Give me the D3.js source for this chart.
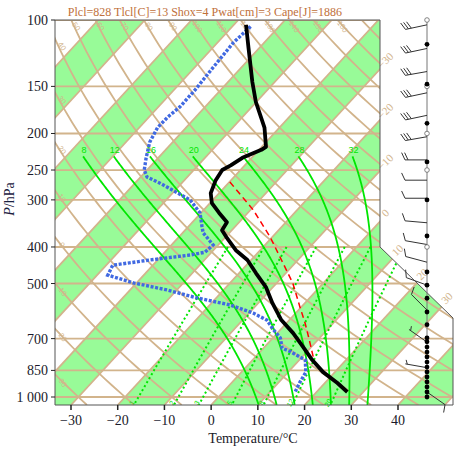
<!DOCTYPE html>
<html><head><meta charset="utf-8">
<script src="https://cdn.jsdelivr.net/npm/d3@7"></script>
<style>body{margin:0;background:#fff}svg{display:block}</style>
</head><body>
<svg id="c" width="466" height="450"></svg>
<script>
// ---------------- data ----------------
const titleText = "Plcl=828 Tlcl[C]=13 Shox=4 Pwat[cm]=3 Cape[J]=1886";
const pTicks = [100,150,200,250,300,400,500,700,850,1000];
const pTickLabels = ["100","150","200","250","300","400","500","700","850","1 000"];
const tTicks = [-30,-20,-10,0,10,20,30,40];
const tTickLabels = ["\u221230","\u221220","\u221210","0","10","20","30","40"];

const tempP = [103,119,146,165,193,217,221,232,243,250,266,288,306,325,344,361,376,408,433,469,511,563,625,677,737,798,859,918,970];
const tempT = [-67.4,-62.2,-54.8,-50.1,-43.2,-39.1,-39.5,-42.0,-43.0,-43.9,-43.3,-41.8,-39.6,-36.1,-32.6,-32.1,-29.9,-25.2,-20.8,-16.4,-11.5,-7.0,-1.7,3.4,8.3,12.8,17.5,22.7,26.6];

const dewP = [104,115,132,153,170,181,193,211,232,250,261,271,300,325,354,367,395,413,420,433,447,475,498,520,546,570,599,625,663,697,742,758,798,859,912,970];
const dewT = [-66.1,-66.6,-66.1,-65.5,-65.4,-66.0,-66.1,-64.9,-62.6,-60.6,-58.6,-54.6,-44.9,-40.2,-37.0,-35.6,-31.1,-31.4,-34.0,-41.6,-48.6,-47.7,-40.7,-32.1,-24.1,-15.6,-9.1,-4.8,-1.5,1.6,4.0,6.5,11.3,13.8,14.5,15.4];

const parcelP = [269,319,376,442,499,577,637,692,787];
const parcelT = [-39.9,-29.4,-20.5,-12.5,-6.5,-0.3,4.0,7.4,12.6];

const windP   = [103,119,137,156,179,204,235,266,297,345,394,439,505,588,715,836,970];
const windDir = [258,258,260,258,258,260,270,270,270,275,280,285,290,315,305,280,125];
const windSpd = [12,12,12,12,12,12,8,4,4,4,4,4,4,4,2,2,4];

const dotFilledP = [116,148,188,238,300,374,466,505,547,595,643,697,714,737,760,783,808,833,858,885,912,940,970,1000];
const dotHollowP = [100,150,200,250,400];

const moistThetaW = [8,12,16,20,24,28,32];
const mixRatios = [1,2,3,5,8,12,20];
const isoLabelT = [-30,-20,-10,0,10,20,30];
const thetaTopLabels = [50,60,70,80,90,100,110,120,130,140,150,160];
const thetaLeftLabels = [40,30,20,10,0,-10,-20,-30];

// ---------------- scales ----------------
const svg = d3.select("#c");
const y = d3.scaleLog().domain([100,1050]).range([20,405]);
const xb = d3.scaleLinear().domain([-30,40]).range([71,398]);
const skew = 0.92;
const X = (T,p) => xb(T) + skew*(405 - y(p));

const tan = "#d2b48c", band = "#98fb98", lime = "#00e600";
const yTop = 20, yBot = 405, xL = 55, xR = 380, xR2 = 453;
const y400 = y(400);
const framePts = [[xL,yTop],[xR,yTop],[xR,y400],[xR2,318],[xR2,yBot],[xL,yBot]];

svg.append("defs").append("clipPath").attr("id","plot")
  .append("polygon").attr("points", framePts.map(d=>d.join(",")).join(" "));

const g = svg.append("g").attr("clip-path","url(#plot)");
const line = d3.line().x(d=>d[0]).y(d=>d[1]);

// green bands between isotherms
for (let t=-180; t<=60; t+=10){
  if (Math.floor(t/10) % 2 !== 0) continue;
  const pts = [[X(t,1050),y(1050)],[X(t+10,1050),y(1050)],[X(t+10,100),y(100)],[X(t,100),y(100)]];
  g.append("polygon").attr("points", pts.map(d=>d.join(",")).join(" ")).attr("fill",band);
}
// isobars
pTicks.forEach(p=>{
  g.append("line").attr("x1",xL).attr("x2",xR2).attr("y1",y(p)).attr("y2",y(p))
    .attr("stroke",tan).attr("stroke-width",1.8);
});
// isotherms
for (let t=-180; t<=60; t+=10){
  g.append("line").attr("x1",X(t,1050)).attr("y1",y(1050)).attr("x2",X(t,100)).attr("y2",y(100))
    .attr("stroke",tan).attr("stroke-width",1.8);
}
// dry adiabats
const pGrid = d3.range(0,61).map(i=>100*Math.pow(10.5,i/60));
const dryT = (th,p) => (th+273.15)*Math.pow(p/1000,0.2857)-273.15;
for (let th=-60; th<=220; th+=10){
  g.append("path").attr("d", line(pGrid.map(p=>[X(dryT(th,p),p), y(p)])))
    .attr("fill","none").attr("stroke",tan).attr("stroke-width",1.8);
}
// mixing ratio lines
function tdFromW(w,p){ const ww=w/1000; const e=ww*p/(0.622+ww); const l=Math.log(e/6.112); return 243.5*l/(17.67-l); }
const pMix = d3.range(0,31).map(i=>400*Math.pow(1050/400,i/30));
mixRatios.forEach(w=>{
  g.append("path").attr("d", line(pMix.map(p=>[X(tdFromW(w,p),p), y(p)])))
    .attr("fill","none").attr("stroke",lime).attr("stroke-width",2).attr("stroke-dasharray","2,2.6");
});
// moist adiabats
function es(Tc){ return 6.112*Math.exp(17.67*Tc/(Tc+243.5)); }
function dTdp(p,T){ const Rd=287.04,Cp=1005.7,Lv=2.501e6,eps=0.622;
  const e=es(T-273.15); const rs=eps*e/(p-e);
  return (Rd*T+Lv*rs)/(p*(Cp+Lv*Lv*rs*eps/(Rd*T*T))); }
function moistLine(thw,pTop){
  const down=[]; let T=thw+273.15, p=1000;
  while(p<1050){ const h=Math.min(2,1050-p); const k1=dTdp(p,T), k2=dTdp(p+h/2,T+k1*h/2); T+=k2*h; p+=h; down.push([p,T]); }
  const up=[[1000,thw+273.15]]; T=thw+273.15; p=1000;
  while(p>pTop){ const h=-Math.min(2,p-pTop); const k1=dTdp(p,T), k2=dTdp(p+h/2,T+k1*h/2); T+=k2*h; p+=h; up.push([p,T]); }
  return down.reverse().concat(up).map(d=>[d[0],d[1]-273.15]);
}
const moistTop = 230;
moistThetaW.forEach(th=>{
  const pts = moistLine(th,moistTop);
  g.append("path").attr("d", line(pts.map(d=>[X(d[1],d[0]), y(d[0])])))
    .attr("fill","none").attr("stroke",lime).attr("stroke-width",1.8);
  const top = pts[pts.length-1];
  svg.append("text").attr("x",X(top[1],top[0])+1).attr("y",y(top[0])-3)
    .attr("text-anchor","middle").attr("font-family","Liberation Sans, Arial, sans-serif")
    .attr("font-size",9).attr("fill",lime).text(th);
});
// mixing ratio labels
mixRatios.forEach(w=>{
  const p=1038; const xx=X(tdFromW(w,p),p);
  svg.append("text").attr("transform",`translate(${xx-1},${y(p)+1}) rotate(-60)`)
    .attr("text-anchor","middle").attr("font-family","Liberation Sans, Arial, sans-serif")
    .attr("font-size",7).attr("fill",lime).text(w);
});
// dry adiabat labels (top edge)
thetaTopLabels.forEach(th=>{
  const xx = X(dryT(th,100),100);
  svg.append("text").attr("transform",`translate(${xx+3},${yTop+8}) rotate(55)`)
    .attr("text-anchor","middle").attr("font-family","Liberation Sans, Arial, sans-serif")
    .attr("font-size",7.5).attr("fill",tan).text(th);
});
// dry adiabat labels (left edge)
thetaLeftLabels.forEach(th=>{
  let lo=100, hi=1050;
  for(let i=0;i<40;i++){ const m=Math.sqrt(lo*hi); if (X(dryT(th,m),m) < xL) lo=m; else hi=m; }
  const yy=y(lo);
  svg.append("text").attr("transform",`translate(${xL+5},${yy+9}) rotate(55)`)
    .attr("text-anchor","middle").attr("font-family","Liberation Sans, Arial, sans-serif")
    .attr("font-size",7.5).attr("fill",tan).text(th);
});
// isotherm labels on right edge
isoLabelT.forEach(t=>{
  let px, py;
  const yv = 405 - (xR - xb(t))/skew;
  if (yv <= y400){ px=xR; py=yv; }
  else {
    const k=(xR2-xR)/(318-y400);
    py = (xb(t) + skew*405 - xR + k*y400)/(k+skew); px = xR + k*(py-y400);
  }
  svg.append("text").attr("transform",`translate(${px+8},${py-6}) rotate(-45)`)
    .attr("text-anchor","middle").attr("font-family","Liberation Serif, Times New Roman, serif")
    .attr("font-size",11).attr("fill",tan).text(t<0? "\u2212"+(-t) : t);
});

// ---------------- profiles ----------------
const prof = d3.line().x(d=>X(d[1],d[0])).y(d=>y(d[0]));
svg.append("path").attr("d", prof(dewP.map((p,i)=>[p,dewT[i]])))
  .attr("fill","none").attr("stroke","#4169e1").attr("stroke-width",3.4).attr("stroke-dasharray","3,1.6");
svg.append("path").attr("d", prof(parcelP.map((p,i)=>[p,parcelT[i]])))
  .attr("fill","none").attr("stroke","#ff0000").attr("stroke-width",1.5).attr("stroke-dasharray","6,4");
svg.append("path").attr("d", prof(tempP.map((p,i)=>[p,tempT[i]])))
  .attr("fill","none").attr("stroke","#000").attr("stroke-width",3.8).attr("stroke-linejoin","round");

// ---------------- frame & axes ----------------
svg.append("polygon").attr("points", framePts.map(d=>d.join(",")).join(" "))
  .attr("fill","none").attr("stroke","#555").attr("stroke-width",1);
const serif = "Liberation Serif, Times New Roman, serif";
pTicks.forEach((p,i)=>{
  svg.append("line").attr("x1",xL-4).attr("x2",xL).attr("y1",y(p)).attr("y2",y(p)).attr("stroke","#222");
  svg.append("text").attr("x",xL-7).attr("y",y(p)+5).attr("text-anchor","end")
    .attr("font-family",serif).attr("font-size",14).attr("fill","#1a1a2a").text(pTickLabels[i]);
});
tTicks.forEach((t,i)=>{
  svg.append("line").attr("x1",xb(t)).attr("x2",xb(t)).attr("y1",yBot).attr("y2",yBot+5)
    .attr("stroke","#222").attr("stroke-width",1.5);
  svg.append("text").attr("x",xb(t)).attr("y",yBot+20).attr("text-anchor","middle")
    .attr("font-family",serif).attr("font-size",14).attr("fill","#1a1a2a").text(tTickLabels[i]);
});
svg.append("text").attr("x",253).attr("y",443).attr("text-anchor","middle")
  .attr("font-family",serif).attr("font-size",14).attr("fill","#1a1a2a").text("Temperature/\u00b0C");
const yl = svg.append("text").attr("transform","translate(14,199) rotate(-90)").attr("text-anchor","middle")
  .attr("font-family",serif).attr("font-size",14).attr("fill","#1a2040");
yl.append("tspan").attr("font-style","italic").text("P");
yl.append("tspan").text("/hPa");
svg.append("text").attr("x",205).attr("y",16).attr("text-anchor","middle")
  .attr("font-family",serif).attr("font-size",12).attr("fill","#c0703a").text(titleText);

// ---------------- wind column ----------------
const xs = 427;
svg.append("line").attr("x1",xs).attr("x2",xs).attr("y1",yTop).attr("y2",y(1010))
  .attr("stroke","#777").attr("stroke-width",1);
const rad = a => a*Math.PI/180;
windP.forEach((p,i)=>{
  const d=rad(windDir[i]); const ux=Math.sin(d), uy=-Math.cos(d);
  const y0=y(p), L=22;
  const ex=xs+ux*L, ey=y0+uy*L;
  let s="M"+xs+","+y0+"L"+ex+","+ey;
  const a=rad(65); const fx=ux*Math.cos(a)-uy*Math.sin(a), fy=ux*Math.sin(a)+uy*Math.cos(a);
  let spd=windSpd[i], pos=0;
  while(spd>=4){ const bx=ex-ux*pos, by=ey-uy*pos; s+="M"+bx+","+by+"L"+(bx+fx*8)+","+(by+fy*8); pos+=3; spd-=4; }
  if(spd>=2){ if(pos===0) pos=2; const bx=ex-ux*pos, by=ey-uy*pos; s+="M"+bx+","+by+"L"+(bx+fx*4.5)+","+(by+fy*4.5); }
  svg.append("path").attr("d",s).attr("fill","none").attr("stroke","#333").attr("stroke-width",1);
});
dotHollowP.forEach(p=>{
  svg.append("circle").attr("cx",xs).attr("cy",y(p)).attr("r",2.3).attr("fill","#fff").attr("stroke","#666").attr("stroke-width",0.8);
});
dotFilledP.forEach(p=>{
  svg.append("circle").attr("cx",xs).attr("cy",y(p)).attr("r",2.4).attr("fill","#000");
});
</script>
</body></html>
